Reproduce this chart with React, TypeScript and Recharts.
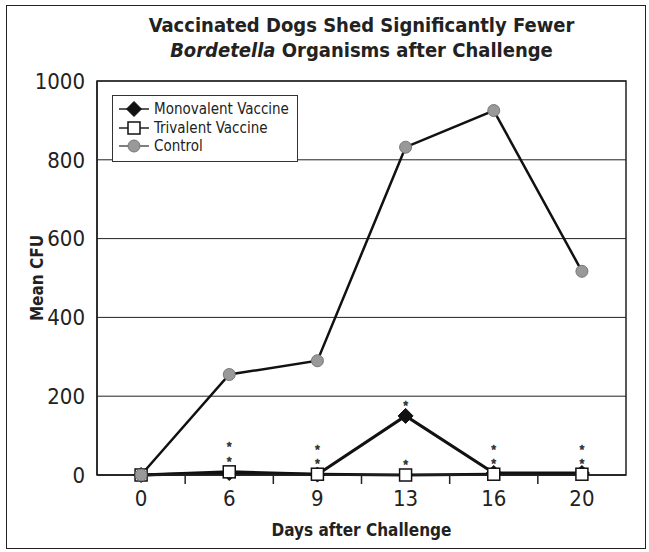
import React from "react";
import {
  CartesianGrid,
  Label,
  LabelList,
  Legend,
  Line,
  LineChart,
  ReferenceArea,
  XAxis,
  YAxis,
} from "recharts";

const NARROW = '"Liberation Sans Narrow", "DejaVu Sans Condensed", "Liberation Sans", sans-serif';
const INK = "#222";

const days = ["0", "6", "9", "13", "16", "20"];
const monovalent = [0, 5, 1, 150, 5, 5];
const trivalent = [0, 8, 2, 0, 2, 2];
const control = [0, 255, 290, 832, 925, 517];
// number of significance asterisks drawn above each point
const triStars = [0, 2, 2, 1, 2, 2];
const monoStars = [0, 0, 0, 1, 0, 0];
const yTicks = [0, 200, 400, 600, 800, 1000];
const legendOrder = ["mono", "tri", "control"];

const data = days.map((day, i) => ({
  idx: i,
  day,
  mono: monovalent[i],
  tri: trivalent[i],
  control: control[i],
  triStars: triStars[i],
  monoStars: monoStars[i],
}));

// category labels on whole indexes, tick marks halfway between them
const xTicks = days.flatMap((_, i) => (i < days.length - 1 ? [i, i + 0.5] : [i]));

function XTick({ x, y, payload }: any) {
  const v = payload.value;
  if (Number.isInteger(v)) {
    return (
      <text x={x} y={y + 31} textAnchor="middle" fontSize={22} fontFamily={NARROW} fill={INK}>
        {days[v]}
      </text>
    );
  }
  return <line x1={x} x2={x} y1={y} y2={y + 9} stroke={INK} strokeWidth={1.5} />;
}

function diamond(cx: number, cy: number, key?: string) {
  const r = 7.5;
  return (
    <polygon
      key={key}
      points={`${cx},${cy - r} ${cx + r},${cy} ${cx},${cy + r} ${cx - r},${cy}`}
      fill="#111"
      stroke="#111"
      strokeWidth={1}
    />
  );
}

function square(cx: number, cy: number, key?: string) {
  return (
    <rect key={key} x={cx - 6} y={cy - 6} width={12} height={12} fill="#fff" stroke="#111" strokeWidth={1.5} />
  );
}

function circle(cx: number, cy: number, key?: string) {
  return <circle key={key} cx={cx} cy={cy} r={6} fill="#999" stroke="#777" strokeWidth={1} />;
}

const STAR_GAP = 14.5;

// stacked asterisks, lowest one just above the point
const renderStars = (props: any) => {
  const vb = props.viewBox || {};
  const cx = vb.x ?? props.x;
  const cy = vb.y ?? props.y;
  const n = Number(props.value) || 0;
  if (!n) return null;
  return (
    <g>
      {Array.from({ length: n }, (_, i) => (
        <text
          key={i}
          x={cx}
          y={cy - 6 - STAR_GAP * i}
          textAnchor="middle"
          fontSize={12.5}
          fontFamily='"Liberation Sans", sans-serif'
          fill="#333"
          stroke="#333"
          strokeWidth={0.6}
        >
          *
        </text>
      ))}
    </g>
  );
};

function LegendBox({ payload }: any) {
  const icons: Record<string, (cx: number, cy: number) => React.ReactNode> = {
    mono: diamond,
    tri: square,
    control: circle,
  };
  const items = [...(payload || [])].sort(
    (a: any, b: any) => legendOrder.indexOf(a.dataKey) - legendOrder.indexOf(b.dataKey)
  );
  return (
    <div
      style={{
        border: "1px solid #333",
        background: "#fff",
        padding: "4px 8px 5px 5px",
        fontFamily: NARROW,
        fontSize: 15,
        color: INK,
      }}
    >
      {items.map((p: any) => (
        <div key={p.value} style={{ display: "flex", alignItems: "center", height: 18.5 }}>
          <svg width={32} height={16} style={{ marginRight: 4 }}>
            <line x1={1} x2={31} y1={8} y2={8} stroke={p.dataKey === "control" ? "#555" : INK} strokeWidth={1.5} />
            {icons[p.dataKey](16, 8)}
          </svg>
          <span>{p.value}</span>
        </div>
      ))}
    </div>
  );
}

export default function App() {
  return (
    <div style={{ position: "absolute", left: 0, top: 0, width: 649, height: 552, background: "#fff" }}>
      <div
        style={{
          position: "absolute",
          left: 6,
          top: 5,
          width: 640,
          height: 544,
          border: `1.5px solid ${INK}`,
          boxSizing: "border-box",
        }}
      />
      <div
        style={{
          position: "absolute",
          left: 97,
          top: 13,
          width: 529,
          textAlign: "center",
          fontFamily: NARROW,
          fontWeight: "bold",
          fontSize: 20,
          lineHeight: "25px",
          color: INK,
        }}
      >
        Vaccinated Dogs Shed Significantly Fewer
        <br />
        <i>Bordetella</i> Organisms after Challenge
      </div>
      <div style={{ position: "absolute", left: 0, top: 0 }}>
        <LineChart width={649} height={552} data={data} margin={{ top: 81, right: 23, bottom: 0, left: 0 }}>
          <CartesianGrid vertical={false} stroke={INK} strokeWidth={1} />
          <XAxis
            type="number"
            dataKey="idx"
            domain={[-0.5, days.length - 0.5]}
            ticks={xTicks}
            interval={0}
            tickLine={false}
            tickSize={0}
            tickMargin={0}
            tick={<XTick />}
            axisLine={{ stroke: INK, strokeWidth: 1.5 }}
            height={77}
          >
            <Label
              value="Days after Challenge"
              position="insideBottom"
              offset={16}
              style={{ fontFamily: NARROW, fontWeight: "bold", fontSize: 17, fill: INK }}
            />
          </XAxis>
          <YAxis
            domain={[0, 1000]}
            ticks={yTicks}
            interval={0}
            width={97}
            tickLine={false}
            tickMargin={6}
            axisLine={{ stroke: INK, strokeWidth: 1.5 }}
            tick={{ fontSize: 22, fontFamily: NARROW, fill: INK }}
          >
            <Label
              content={() => (
                <text
                  x={38}
                  y={278}
                  transform="rotate(-90 38 278)"
                  textAnchor="middle"
                  dominantBaseline="middle"
                  fontFamily={NARROW}
                  fontWeight="bold"
                  fontSize={17}
                  fill={INK}
                >
                  Mean CFU
                </text>
              )}
            />
          </YAxis>
          <ReferenceArea x1={-0.5} x2={days.length - 0.5} y1={0} y2={1000} fill="none" stroke={INK} strokeWidth={1.5} strokeOpacity={1} />
          <Legend
            layout="vertical"
            align="center"
            verticalAlign="middle"
            wrapperStyle={{ left: 112, top: 95, width: "auto" }}
            content={<LegendBox />}
          />
          <Line
            dataKey="mono"
            name="Monovalent Vaccine"
            stroke="#111"
            strokeWidth={3}
            isAnimationActive={false}
            dot={(p: any) => diamond(p.cx, p.cy, `m-${p.index}`)}
            activeDot={false}
          >
            <LabelList dataKey="monoStars" content={renderStars} />
          </Line>
          <Line
            dataKey="tri"
            name="Trivalent Vaccine"
            stroke="#111"
            strokeWidth={3}
            isAnimationActive={false}
            dot={(p: any) => square(p.cx, p.cy, `t-${p.index}`)}
            activeDot={false}
          >
            <LabelList dataKey="triStars" content={renderStars} />
          </Line>
          <Line
            dataKey="control"
            name="Control"
            stroke="#111"
            strokeWidth={2.5}
            isAnimationActive={false}
            dot={(p: any) => circle(p.cx, p.cy, `c-${p.index}`)}
            activeDot={false}
          />
        </LineChart>
      </div>
    </div>
  );
}
